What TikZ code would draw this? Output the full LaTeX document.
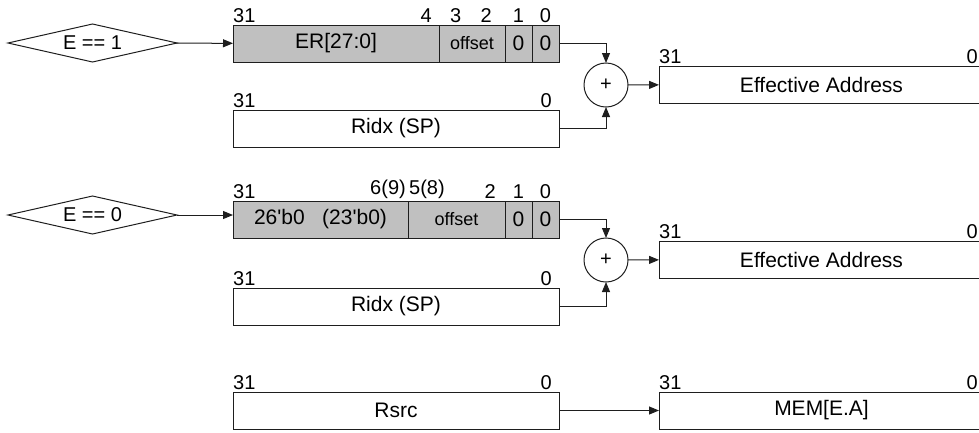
\documentclass[tikz,border=0pt]{standalone}
\usepackage{fontspec}
\setmainfont{Liberation Sans}
\usetikzlibrary{shapes.geometric,arrows.meta,positioning}
\definecolor{regfill}{RGB}{192,192,192}
\definecolor{regline}{RGB}{30,30,30}
\tikzset{
    reg/.style={rectangle, draw=regline, fill=white, line width=1pt, minimum height=37pt, inner sep=0pt, outer sep=0pt, anchor=north west, font=\fontsize{21}{25}\selectfont},
    field/.style={reg, fill=regfill, anchor=west},
    cond/.style={diamond, aspect=4.45, draw=regline, line width=1pt, minimum width=169pt, minimum height=38pt, inner sep=0pt, outer sep=0pt, font=\fontsize{20}{24}\selectfont},
    adder/.style={circle, draw=regline, line width=1pt, minimum size=44pt, inner sep=0pt, outer sep=0pt, font=\fontsize{20}{24}\selectfont},
    bit/.style={inner sep=0pt, yshift=2pt, font=\fontsize{20}{24}\selectfont},
    small/.style={font=\fontsize{18}{22}\selectfont},
    arrow/.style={line width=1pt, draw=regline, ->, >={Triangle[length=10pt,width=8pt]}}
}
\begin{document}
\begin{tikzpicture}[x=1pt, y=-1pt]
        \useasboundingbox (0,0) rectangle (979,432);

        % E == 1
        \node (cond1) [cond] at (92.5,43) {E == 1};
        \node (er1) [field, anchor=north west, minimum width=206pt,
            label={[bit, anchor=south west]north west:31},
            label={[bit, anchor=south east, xshift=-7pt]north east:4}] at (233,25) {ER[27:0]};
        \node (off1) [field, small, minimum width=66pt, right=0pt of er1,
            label={[bit, anchor=south west, xshift=11pt]north west:3},
            label={[bit, anchor=south east, xshift=-13pt]north east:2}] {offset};
        \node (one1) [field, minimum width=27pt, right=0pt of off1,
            label={[bit, anchor=south]north:1}] {0};
        \node (zero1) [field, minimum width=27pt, right=0pt of one1,
            label={[bit, anchor=south]north:0}] {0};
        \node (ridx1) [reg, minimum width=326pt,
            label={[bit, anchor=south west]north west:31},
            label={[bit, anchor=south east, xshift=-7pt]north east:0}] at (233,110) {Ridx (SP)};
        \node (add1) [adder] at (606,85) {+};
        \node (ea1) [reg, minimum width=325pt,
            label={[bit, anchor=south west]north west:31},
            label={[bit, anchor=south east, xshift=-6pt]north east:0}] at (659,66) {Effective Address};

        \draw [arrow] (cond1) -- (er1);
        \draw [arrow] (zero1.east) -| (add1.north);
        \draw [arrow] (ridx1.east) -| (add1.south);
        \draw [arrow] (add1) -- (ea1);

        % E == 0
        \node (cond0) [cond] at (92.5,215) {E == 0};
        \node (zx0) [field, anchor=north west, minimum width=175pt,
            label={[bit, anchor=south west]north west:31},
            label={[bit, anchor=south east, xshift=-2pt]north east:6(9)}] at (233,201) {26\textquotesingle b0\ \ \ (23\textquotesingle b0)};
        \node (off0) [field, small, minimum width=97pt, right=0pt of zx0,
            label={[bit, anchor=south west, xshift=1pt]north west:5(8)},
            label={[bit, anchor=south east, xshift=-9pt]north east:2}] {offset};
        \node (one0) [field, minimum width=27pt, right=0pt of off0,
            label={[bit, anchor=south]north:1}] {0};
        \node (zero0) [field, minimum width=27pt, right=0pt of one0,
            label={[bit, anchor=south]north:0}] {0};
        \node (ridx0) [reg, minimum width=326pt,
            label={[bit, anchor=south west]north west:31},
            label={[bit, anchor=south east, xshift=-7pt]north east:0}] at (233,288) {Ridx (SP)};
        \node (add0) [adder] at (606,260) {+};
        \node (ea0) [reg, minimum width=325pt,
            label={[bit, anchor=south west]north west:31},
            label={[bit, anchor=south east, xshift=-6pt]north east:0}] at (659,241) {Effective Address};

        \draw [arrow] (cond0.east) -- (cond0.east -| zx0.west);
        \draw [arrow] (zero0.east) -| (add0.north);
        \draw [arrow] (ridx0.east) -| (add0.south);
        \draw [arrow] (add0) -- (ea0);

        % store
        \node (rsrc) [reg, minimum width=326pt,
            label={[bit, anchor=south west]north west:31},
            label={[bit, anchor=south east, xshift=-7pt]north east:0}] at (233,392) {Rsrc};
        \node (mem) [reg, minimum width=325pt,
            label={[bit, anchor=south west]north west:31},
            label={[bit, anchor=south east, xshift=-6pt]north east:0}] at (659,392) {MEM[E.A]};

        \draw [arrow] (rsrc) -- (mem);
    \end{tikzpicture}
\end{document}
